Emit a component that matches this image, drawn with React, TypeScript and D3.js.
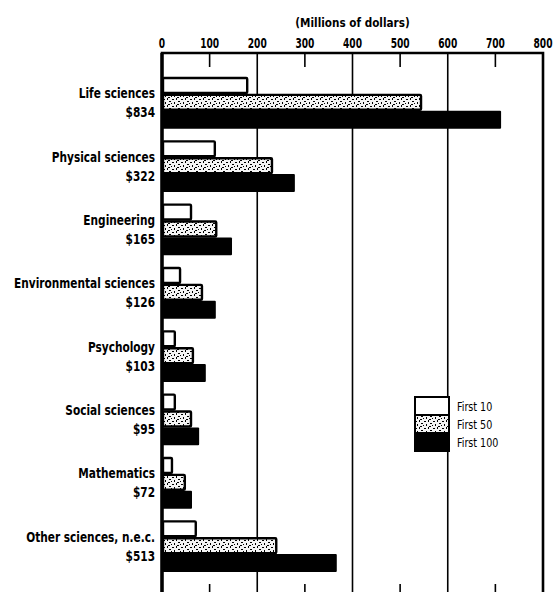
import React from 'react';
import * as d3 from 'd3';

// Federal obligations to universities, by field (millions of dollars)
const categories = [
  'Life sciences',
  'Physical sciences',
  'Engineering',
  'Environmental sciences',
  'Psychology',
  'Social sciences',
  'Mathematics',
  'Other sciences, n.e.c.',
];
const totals = ['$834', '$322', '$165', '$126', '$103', '$95', '$72', '$513'];
const first10 = [181, 113, 63, 40, 29, 29, 23, 73];
const first50 = [546, 233, 116, 86, 67, 63, 50, 242];
const first100 = [712, 279, 147, 113, 92, 78, 63, 367];
const seriesNames = ['First 10', 'First 50', 'First 100'];
const xTicks = [0, 100, 200, 300, 400, 500, 600, 700, 800];
const gridValues = [200, 400, 600];
const minorTicks = [100, 300, 500, 700];

const W = 554;
const H = 592;
const frameTop = 53;
const frameBottom = 600;
const font = '"DejaVu Sans Condensed", "DejaVu Sans", sans-serif';

// narrow text: squeeze horizontally around the anchor point
function NText({ x, y, sx, anchor, size, bold, children }: any) {
  return (
    <g transform={`translate(${x},${y}) scale(${sx},1)`}>
      <text
        x={0}
        y={0}
        textAnchor={anchor}
        fontFamily={font}
        fontWeight={bold ? 'bold' : 'normal'}
        fontSize={size}
      >
        {children}
      </text>
    </g>
  );
}

export default function App() {
  const x = d3.scaleLinear().domain([0, 800]).range([162, 543]);
  const y = d3.scaleBand().domain(categories).range([77, 571]).paddingInner(0.2).paddingOuter(0);
  const sub = d3.scaleBand().domain(seriesNames).range([0, y.bandwidth()]).padding(0);

  const series = [first10, first50, first100];
  const fills = ['#fff', 'url(#speck)', '#000'];

  const legendX = 415;
  const legendY = d3.scaleBand().domain(seriesNames).range([397, 451]);

  return (
    <svg
      width={W}
      height={H}
      style={{ position: 'absolute', left: 0, top: 0, background: '#fff' }}
    >
      <defs>
        <pattern id="speck" width="9" height="7" patternUnits="userSpaceOnUse">
          <rect width="9" height="7" fill="#f4f4f4" />
          <rect x="1" y="1" width="2" height="1" fill="#000" />
          <rect x="5" y="0" width="1" height="2" fill="#000" />
          <rect x="7" y="3" width="2" height="1" fill="#000" />
          <rect x="3" y="4" width="1" height="2" fill="#000" />
          <rect x="0" y="5" width="1" height="1" fill="#000" />
          <rect x="6" y="6" width="2" height="1" fill="#000" />
        </pattern>
      </defs>

      {/* axis title */}
      <NText x={x(400)} y={27} sx={0.93} anchor="middle" size={12.5} bold>
        (Millions of dollars)
      </NText>

      {/* tick labels */}
      {xTicks.map((t) => (
        <NText key={t} x={x(t)} y={48} sx={0.75} anchor="middle" size={13.5} bold>
          {t}
        </NText>
      ))}

      {/* gridlines */}
      {gridValues.map((g) => (
        <line key={g} x1={x(g)} x2={x(g)} y1={frameTop} y2={frameBottom} stroke="#000" strokeWidth={1.6} />
      ))}
      {minorTicks.map((t) => (
        <g key={t}>
          <line x1={x(t)} x2={x(t)} y1={frameTop} y2={frameTop + 14} stroke="#000" strokeWidth={1.6} />
          <line x1={x(t)} x2={x(t)} y1={584} y2={frameBottom} stroke="#000" strokeWidth={1.6} />
        </g>
      ))}

      {/* bars */}
      {categories.map((c, i) => (
        <g key={c}>
          {series.map((vals, s) => {
            const yy = (y(c) || 0) + (sub(seriesNames[s]) || 0);
            const h = sub.bandwidth();
            const w = x(vals[i]) - x(0);
            return s === 2 ? (
              <rect key={s} x={x(0)} y={yy} width={w} height={h + 1} fill="#000" rx={1} />
            ) : (
              <rect
                key={s}
                x={x(0) + 1}
                y={yy + 1}
                width={w - 2}
                height={h - 2}
                fill={fills[s]}
                stroke="#000"
                strokeWidth={2.4}
                rx={1}
              />
            );
          })}
          <NText x={155} y={(y(c) || 0) + y.bandwidth() / 2 - 4} sx={0.87} anchor="end" size={13.5} bold>
            {c}
          </NText>
          <NText x={155} y={(y(c) || 0) + y.bandwidth() / 2 + 15} sx={0.87} anchor="end" size={13.5} bold>
            {totals[i]}
          </NText>
        </g>
      ))}

      {/* frame */}
      <path
        d={`M${x(0)},${frameBottom}V${frameTop}H${x(800)}V${frameBottom}`}
        fill="none"
        stroke="#000"
        strokeWidth={2.6}
      />
      <line x1={x(0)} x2={x(0)} y1={frameTop} y2={frameBottom} stroke="#000" strokeWidth={3.4} />

      {/* legend */}
      {seriesNames.map((n, s) => (
        <g key={n}>
          <rect
            x={legendX}
            y={legendY(n) || 0}
            width={34}
            height={legendY.bandwidth()}
            fill={fills[s]}
            stroke="#000"
            strokeWidth={2}
          />
          <NText x={457} y={(legendY(n) || 0) + legendY.bandwidth() / 2 + 4.5} sx={0.82} anchor="start" size={13}>
            {n}
          </NText>
        </g>
      ))}
    </svg>
  );
}
